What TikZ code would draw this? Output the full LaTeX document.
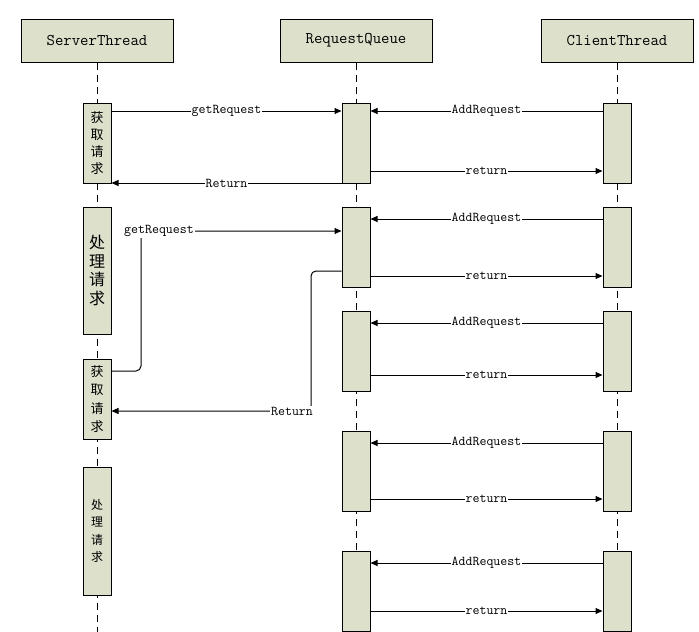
\documentclass[tikz,border=0pt]{standalone}
\usepackage{fontspec}
\newfontfamily\cjk{Noto Sans CJK SC}
\usetikzlibrary{arrows.meta}
\definecolor{boxfill}{RGB}{221,224,203}
\begin{document}
\begin{tikzpicture}[x=1pt,y=-1pt,
  head/.style={draw,fill=boxfill,line width=1pt,minimum width=152pt,minimum height=43pt,inner sep=0pt,font=\ttfamily\fontsize{16.3}{18}\selectfont},
  act/.style={draw,fill=boxfill,line width=1pt,minimum width=28pt,inner sep=0pt,align=center},
  life/.style={dash pattern=on 7pt off 5pt,line width=1pt},
  msg/.style={line width=1pt,-{Triangle[length=7pt,width=6pt]}},
  lbl/.style={fill=white,inner sep=1pt,font=\ttfamily\fontsize{13.5}{15}\selectfont}]
\useasboundingbox (0,0) rectangle (699,632);
% headers
\node[head] (ST) at (97,40.5) {ServerThread};
\node[head] (RQ) at (356,40.5) {RequestQueue};
\node[head] (CT) at (617,40.5) {ClientThread};
% lifelines
\coordinate (sEnd) at (97,632);
\coordinate (qEnd) at (356,632);
\coordinate (cEnd) at (617,632);
\draw[life] (ST.south) -- (sEnd);
\draw[life] (RQ.south) -- (qEnd);
\draw[life] (CT.south) -- (cEnd);
% server activations
\node[act,minimum height=80pt,font=\cjk\fontsize{13}{17}\selectfont] (s1) at (97,143) {获\\取\\请\\求};
\node[act,minimum height=127pt,font=\cjk\fontsize{16}{18.7}\selectfont] (s2) at (97,270.5) {处\\理\\请\\求};
\node[act,minimum height=80pt,font=\cjk\fontsize{13}{18.5}\selectfont] (s3) at (97,399) {获\\取\\请\\求};
\node[act,minimum height=128pt,font=\cjk\fontsize{12}{17.3}\selectfont] (s4) at (97,531) {处\\理\\请\\求};
% queue activations
\node[act,minimum height=80pt] (q1) at (356,143) {};
\node[act,minimum height=80pt] (q2) at (356,247) {};
\node[act,minimum height=80pt] (q3) at (356,351) {};
\node[act,minimum height=80pt] (q4) at (356,471) {};
\node[act,minimum height=80pt] (q5) at (356,591) {};
% client activations
\node[act,minimum height=80pt] (c1) at (617,143) {};
\node[act,minimum height=80pt] (c2) at (617,247) {};
\node[act,minimum height=80pt] (c3) at (617,351) {};
\node[act,minimum height=80pt] (c4) at (617,471) {};
\node[act,minimum height=80pt] (c5) at (617,591) {};
% first round
\draw[msg] (s1.east |- 0,111) -- node[lbl]{getRequest} (q1.west |- 0,111);
\draw[msg] (q1.west |- 0,183) -- node[lbl]{Return} (s1.east |- 0,183);
% client messages
\draw[msg] (c1.west |- 0,111) -- node[lbl]{AddRequest} (q1.east |- 0,111);
\draw[msg] (q1.east |- 0,171) -- node[lbl]{return} (c1.west |- 0,171);
\draw[msg] (c2.west |- 0,219) -- node[lbl]{AddRequest} (q2.east |- 0,219);
\draw[msg] (q2.east |- 0,276) -- node[lbl]{return} (c2.west |- 0,276);
\draw[msg] (c3.west |- 0,323) -- node[lbl]{AddRequest} (q3.east |- 0,323);
\draw[msg] (q3.east |- 0,375) -- node[lbl]{return} (c3.west |- 0,375);
\draw[msg] (c4.west |- 0,443) -- node[lbl]{AddRequest} (q4.east |- 0,443);
\draw[msg] (q4.east |- 0,499) -- node[lbl]{return} (c4.west |- 0,499);
\draw[msg] (c5.west |- 0,563) -- node[lbl]{AddRequest} (q5.east |- 0,563);
\draw[msg] (q5.east |- 0,611) -- node[lbl]{return} (c5.west |- 0,611);
% second round
\draw[msg,rounded corners=5pt] (s3.east |- 0,371) -| (141,231) -- (q2.west |- 0,231);
\node[lbl] (gr2) at (159,231) {getRequest};
\draw[msg,rounded corners=5pt] (q2.west |- 0,271) -| (311,411) -- (s3.east |- 0,411);
\node[lbl] (rt2) at (292,411) {Return};
\end{tikzpicture}
\end{document}
